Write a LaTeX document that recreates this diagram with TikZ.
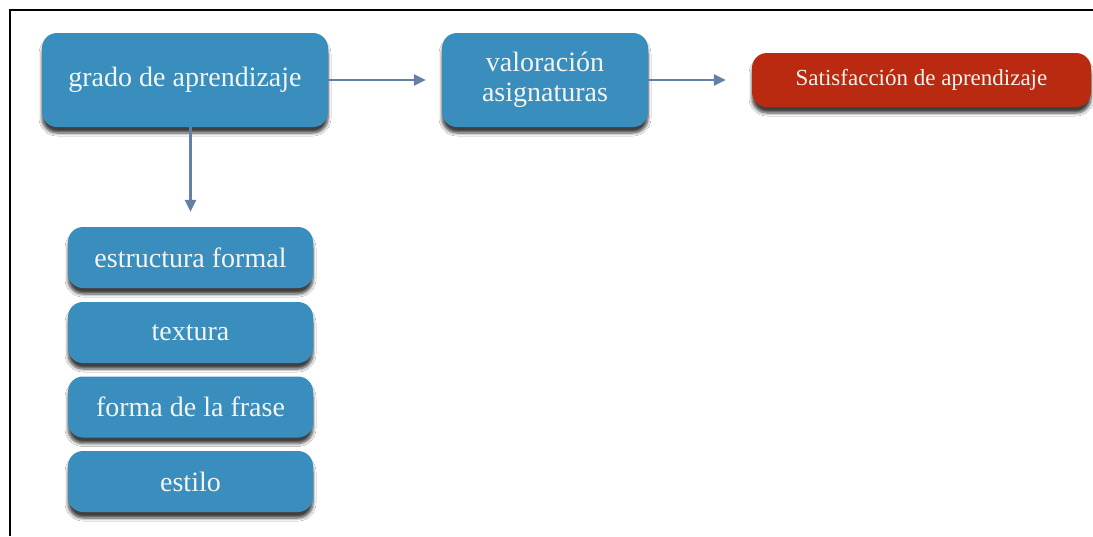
\documentclass[tikz,border=0pt]{standalone}
\usepackage{fontspec}
\setmainfont{Liberation Serif}
\usetikzlibrary{arrows.meta,shadows.blur}
\definecolor{boxblue}{RGB}{58,142,190}
\definecolor{boxred}{RGB}{185,42,16}
\definecolor{arrowc}{RGB}{100,128,168}
\definecolor{txt}{RGB}{244,244,240}
\tikzset{
  card/.style={rounded corners=15pt, inner sep=0pt, align=center, text=txt,
    blur shadow={shadow xshift=0pt, shadow yshift=-6pt, shadow blur steps=6, shadow opacity=75, shadow blur radius=3pt}},
  bluecard/.style={card, fill=boxblue, font=\fontsize{28}{30}\selectfont},
  redcard/.style={card, fill=boxred, font=\fontsize{23}{26}\selectfont},
  arr/.style={draw=arrowc, line width=2.4pt, -{Triangle[length=12pt,width=11pt]}},
}
\begin{document}
\begin{tikzpicture}[x=1pt,y=-1pt]
\useasboundingbox (0,0) rectangle (1093,536);
\fill[white] (0,0) rectangle (1093,536);
\coordinate (tl) at (9.5,9.5);
\coordinate (tr) at (1093,9.5);
\coordinate (bl) at (9.5,536);
\draw[line width=2pt, black] (bl) -- (tl) -- (tr);

\node[bluecard, minimum width=286pt, minimum height=94pt] (grado) at (185,80) {grado de aprendizaje};
\node[bluecard, minimum width=206pt, minimum height=94pt] (valor) at (545,80) {valoración\\asignaturas};
\node[redcard, minimum width=339pt, minimum height=54pt] (sat) at (921.5,80) {Satisfacción de aprendizaje};

\node[bluecard, minimum width=245pt, minimum height=61pt] (est) at (190.5,257.5) {estructura formal};
\node[bluecard, minimum width=245pt, minimum height=61pt] (tex) at (190.5,332.5) {textura};
\node[bluecard, minimum width=245pt, minimum height=61pt] (forma) at (190.5,407) {forma de la frase};
\node[bluecard, minimum width=245pt, minimum height=61pt] (estilo) at (190.5,481.5) {estilo};

\draw[arr, shorten >=16pt] (grado.east) -- (valor.west);
\draw[arr, shorten >=26pt] (valor.east) -- (sat.west);
\draw[arr, shorten >=15pt] (grado.south -| est.north) -- (est.north);
\end{tikzpicture}
\end{document}
